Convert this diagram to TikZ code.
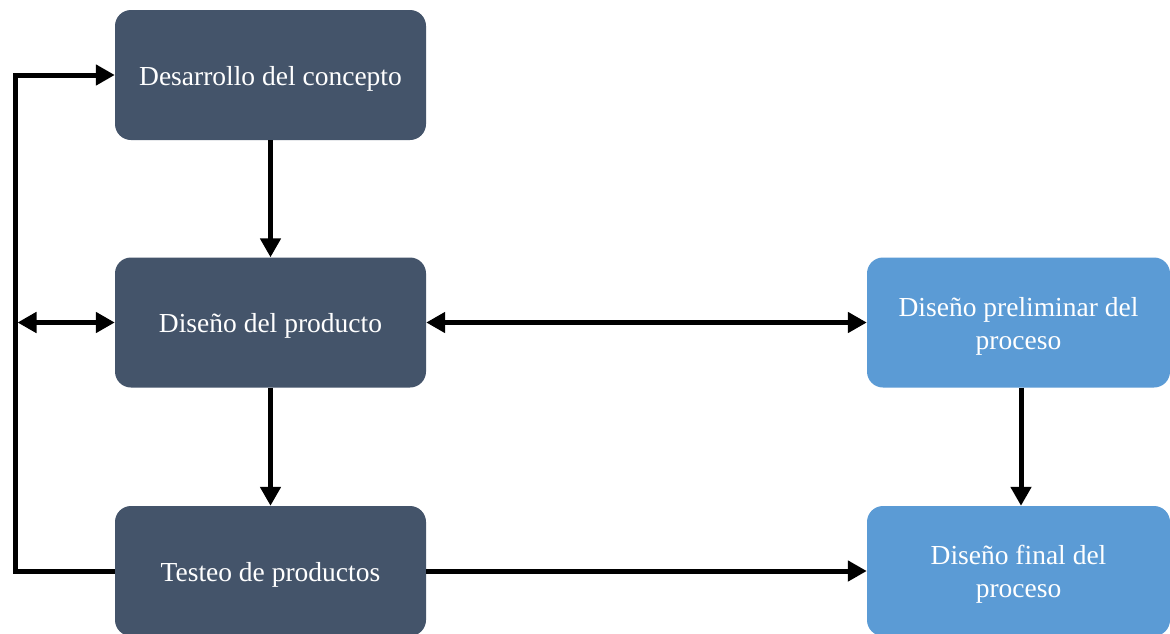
\documentclass[tikz,border=0pt]{standalone}
\usepackage{fontspec}
\setmainfont{Liberation Serif}
\usetikzlibrary{arrows.meta}
\definecolor{darkbox}{HTML}{44546A}
\definecolor{lightbox}{HTML}{5B9BD5}
% set a line slightly below its natural baseline, keeping its reported size
\newcommand\lowline[1]{\raisebox{-3.5pt}[\height][\depth]{#1}}
\begin{document}
\begin{tikzpicture}[x=1pt,y=1pt,
  box/.style={rectangle, rounded corners=16pt, minimum width=311pt, minimum height=130pt,
    inner sep=0pt, text=white, font=\fontsize{27.5}{33}\selectfont, align=center},
  darkstep/.style={box, fill=darkbox},
  lightstep/.style={box, fill=lightbox, minimum width=303pt},
  flow/.style={line width=5pt, -{Triangle[length=19pt,width=20pt]}},
  flowboth/.style={line width=5pt, {Triangle[length=19pt,width=20pt]}-{Triangle[length=19pt,width=20pt]}}
]
\useasboundingbox[fill=white] (0,0) rectangle (1170,-633);

\node[darkstep] (concept) at (270.5,-75) {\lowline{Desarrollo del concepto}};
\node[darkstep] (prod) at (270.5,-322.5) {\lowline{Diseño del producto}};
\node[darkstep] (test) at (270.5,-571) {\lowline{Testeo de productos}};
\node[lightstep] (prelim) at (1018.5,-322.5) {\lowline{Diseño preliminar del}\\\lowline{proceso}};
\node[lightstep] (final) at (1018.5,-571) {\lowline{Diseño final del}\\\lowline{proceso}};

\coordinate (loop) at (15,0);

\draw[flow] (concept) -- (prod);
\draw[flow] (prod) -- (test);
\draw[flowboth] (prod.east) -- (prelim.west);
\draw[flow] (prelim.south -| 1021,0) -- (final.north -| 1021,0);
\draw[flow] (test.east) -- (final.west);
\draw[flow, line join=miter] (test.west) -- (test.west -| loop) |- (concept.west);
\draw[flowboth] (prod.west -| loop) ++(2.5,0) -- (prod.west);
\end{tikzpicture}
\end{document}
